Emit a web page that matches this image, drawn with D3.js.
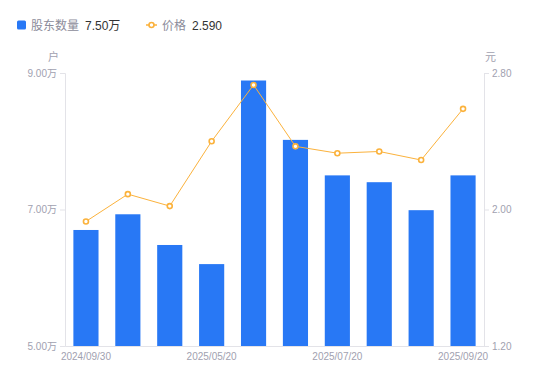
<!DOCTYPE html>
<html>
<head>
<meta charset="utf-8">
<script src="https://cdn.jsdelivr.net/npm/d3@7/dist/d3.min.js"></script>
<style>
  body { margin: 0; background: #fff; }
  text { font-family: "Liberation Sans", Arial, "Noto Sans CJK SC", sans-serif; }
</style>
</head>
<body>
<div id="chart"></div>
<script>
// data
let dates = ['2024/09/30', '2024/12/31', '2025/03/31', '2025/05/20', '2025/06/10',
             '2025/06/30', '2025/07/20', '2025/08/10', '2025/08/31', '2025/09/20']
let holders = [6.70, 6.93, 6.48, 6.20, 8.89, 8.02, 7.50, 7.40, 6.99, 7.50]   // 万户
let prices = [1.93, 2.09, 2.02, 2.40, 2.73, 2.37, 2.33, 2.34, 2.29, 2.59]    // 元
let leftTicks = [5, 7, 9]
let rightTicks = [1.2, 2.0, 2.8]
let xTickLabels = ['2024/09/30', '2025/05/20', '2025/07/20', '2025/09/20']

let width = 550, height = 381
let margin = {left: 65, right: 66, top: 73, bottom: 35}
let w = width - margin.left - margin.right
let h = height - margin.top - margin.bottom

let axisColor = '#e3e3e8'
let labelColor = '#a1a1b0'
let barColor = '#2878f5'
let lineColor = '#fbb23c'

let svg = d3.select('#chart').append('svg')
  .attr('width', width)
  .attr('height', height)

let g = svg.append('g')
  .attr('transform', 'translate(' + margin.left + ',' + margin.top + ')')

let x = d3.scaleBand()
  .domain(dates)
  .range([0, w])
  .paddingInner(0.4)
  .paddingOuter(0.2)

let yL = d3.scaleLinear().domain([5, 9]).range([h, 0])
let yR = d3.scaleLinear().domain([1.2, 2.8]).range([h, 0])

// left axis
let leftAxis = g.append('g')
  .call(d3.axisLeft(yL).tickValues(leftTicks).tickSize(5).tickPadding(3)
    .tickFormat(d => d3.format('.2f')(d) + '万'))
leftAxis.select('.domain').attr('stroke', axisColor)
leftAxis.selectAll('line').attr('stroke', axisColor)
leftAxis.selectAll('text').attr('fill', labelColor).attr('font-size', '10px')

// right axis
let rightAxis = g.append('g')
  .attr('transform', 'translate(' + w + ',0)')
  .call(d3.axisRight(yR).tickValues(rightTicks).tickSize(5).tickPadding(3)
    .tickFormat(d3.format('.2f')))
rightAxis.select('.domain').attr('stroke', axisColor)
rightAxis.selectAll('line').attr('stroke', axisColor)
rightAxis.selectAll('text').attr('fill', labelColor).attr('font-size', '10px')

// bottom axis
let bottomAxis = g.append('g')
  .attr('transform', 'translate(0,' + h + ')')
  .call(d3.axisBottom(x).tickValues(xTickLabels).tickSize(0).tickPadding(7))
bottomAxis.select('.domain').attr('stroke', axisColor)
bottomAxis.selectAll('text').attr('fill', labelColor).attr('font-size', '10px')

// unit labels
g.append('text')
  .attr('x', -6).attr('y', -12)
  .attr('text-anchor', 'end')
  .attr('font-size', '11px')
  .attr('fill', labelColor)
  .text('户')
g.append('text')
  .attr('x', w + 1).attr('y', -12)
  .attr('font-size', '11px')
  .attr('fill', labelColor)
  .text('元')

// bars
g.selectAll('rect.bar')
  .data(holders)
  .enter().append('rect')
  .attr('class', 'bar')
  .attr('x', (d, i) => x(dates[i]))
  .attr('y', d => yL(d))
  .attr('width', x.bandwidth())
  .attr('height', d => h - yL(d))
  .attr('fill', barColor)

// price line
let line = d3.line()
  .x((d, i) => x(dates[i]) + x.bandwidth() / 2)
  .y(d => yR(d))

g.append('path')
  .attr('d', line(prices))
  .attr('fill', 'none')
  .attr('stroke', lineColor)
  .attr('stroke-width', 1)

g.selectAll('circle.pt')
  .data(prices)
  .enter().append('circle')
  .attr('class', 'pt')
  .attr('cx', (d, i) => x(dates[i]) + x.bandwidth() / 2)
  .attr('cy', d => yR(d))
  .attr('r', 2.5)
  .attr('fill', '#fff')
  .attr('stroke', lineColor)
  .attr('stroke-width', 1.6)

// legend
let legend = svg.append('g')
legend.append('rect')
  .attr('x', 17).attr('y', 20.5).attr('width', 9).attr('height', 9).attr('rx', 1.5)
  .attr('fill', barColor)
legend.append('text')
  .attr('x', 31).attr('y', 29.5)
  .attr('font-size', '12px').attr('fill', '#8c8c9a')
  .text('股东数量')
legend.append('text')
  .attr('x', 85).attr('y', 29.5)
  .attr('font-size', '12px').attr('fill', '#333')
  .text(d3.format('.2f')(holders[holders.length - 1]) + '万')

legend.append('line')
  .attr('x1', 146).attr('x2', 157).attr('y1', 25).attr('y2', 25)
  .attr('stroke', lineColor).attr('stroke-width', 1.5)
legend.append('circle')
  .attr('cx', 151.5).attr('cy', 25).attr('r', 2.5)
  .attr('fill', '#fff').attr('stroke', lineColor).attr('stroke-width', 1.6)
legend.append('text')
  .attr('x', 162).attr('y', 29.5)
  .attr('font-size', '12px').attr('fill', '#8c8c9a')
  .text('价格')
legend.append('text')
  .attr('x', 192).attr('y', 29.5)
  .attr('font-size', '12px').attr('fill', '#333')
  .text(d3.format('.3f')(prices[prices.length - 1]))
</script>
</body>
</html>
